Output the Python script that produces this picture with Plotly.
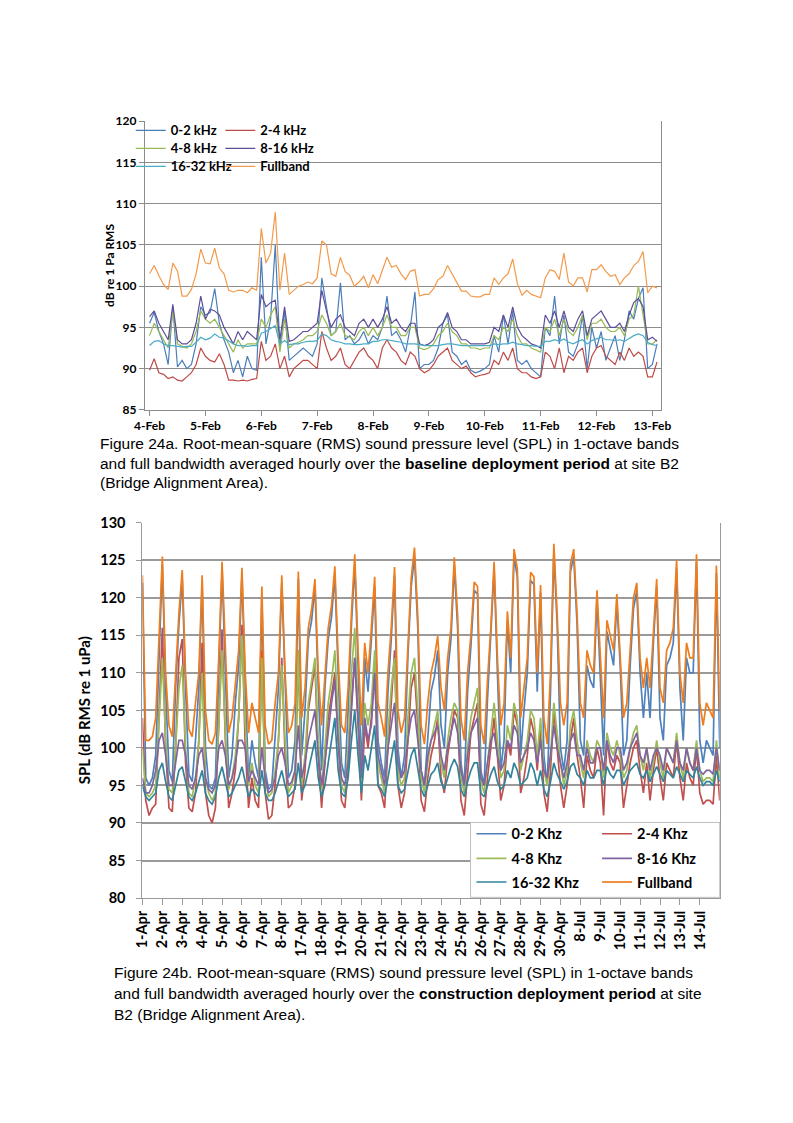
import plotly.graph_objects as go

W, H = 793, 1123

# ---------------- Figure 24a (baseline, 2-hourly samples from 4-Feb 00:00) ----------------
top_labels = ["4-Feb", "5-Feb", "6-Feb", "7-Feb", "8-Feb", "9-Feb", "10-Feb", "11-Feb", "12-Feb", "13-Feb"]
top_hours = list(range(0, 220, 2))

top_b0_2 = [95.5, 96.8, 94.5, 93, 90.5, 97.5, 90.2, 91, 90, 90.5,
            93, 97.5, 96.5, 96.8, 99.7, 95.5, 93.5, 92, 89.5, 91,
            89, 91.5, 90, 89.8, 103.5, 93, 96, 105, 92.5, 97,
            91, 91.5, 92, 92.5, 92, 91.5, 93, 101, 97.5, 94,
            94.5, 100.4, 93.5, 94, 93, 93.5, 94.5, 93, 94, 93.5,
            95, 98.8, 94, 94.5, 93.5, 92, 95, 99.3, 90, 90.5,
            90.5, 91, 92.5, 95.5, 96.5, 92, 91.5, 90.5, 91, 89.8,
            89.5, 89.7, 90, 90.5, 94, 92, 96.5, 93, 97, 91,
            90.5, 91, 90, 89.5, 89, 95, 94, 98.8, 93, 96.5,
            92, 91.5, 93, 96.5, 90, 95, 92.5, 94.5, 91, 92.5,
            94, 91, 93.5, 97, 96, 98.5, 99.8, 90, 90.5, 93]
top_b2_4 = [89.8, 91.2, 89.5, 89.3, 88.8, 89, 88.6, 88.5, 89, 89.5,
            90.5, 92.5, 91.5, 91, 90.8, 91.8, 90.5, 88.6, 88.6, 88.5,
            88.6, 88.5, 88.7, 88.8, 93.3, 91, 91.5, 93, 90, 91.5,
            89, 90, 90.5, 91, 91, 90.5, 90, 94.5, 92.5, 91,
            91.5, 92.5, 90.5, 90, 91, 92, 92.5, 91.5, 91, 90,
            92.5, 93.5, 92.5, 92, 91, 90.5, 92, 91.5, 90, 89.5,
            89.8, 90.5, 91.5, 92, 92.5, 91, 90.5, 90, 90.3, 89.5,
            89, 89.2, 89.3, 89.5, 91, 90.5, 92, 91, 92.5, 90,
            89.5, 89.5, 89, 88.8, 89, 92, 91.5, 90, 92.5, 89.5,
            91.5, 91, 92, 92.5, 89.5, 91.5, 92.5, 92.8, 91.5, 91,
            90.5, 92, 91, 92.5, 91.5, 92, 91.5, 89, 89, 90.8]
top_b4_8 = [94, 95.5, 94.5, 93.5, 92.5, 97, 93, 92.7, 92.5, 93,
            94.5, 97, 96, 95.5, 96, 95, 94, 93, 92, 93.5,
            92.5, 93, 93, 93, 96, 95, 96.5, 97.5, 92, 96,
            92.5, 93, 93.2, 93.5, 94, 94, 94.5, 96.5, 95.5, 94,
            94.5, 95.5, 94, 93.8, 93.5, 94.5, 95, 94, 95, 94,
            95, 96.5, 95, 95, 94, 94, 95, 95, 92.5, 92.3,
            92.5, 93, 94, 94.5, 95.5, 94.5, 94, 93, 93, 92.5,
            92.5, 92.3, 92.5, 92.5, 94, 93.5, 95, 94.5, 96, 94,
            93, 93, 92.5, 92.2, 92, 95, 94.5, 96, 94, 96,
            94.5, 94, 95, 96.5, 93.5, 95.5, 95.5, 96, 95, 94.5,
            94.5, 95, 94, 96, 96.5, 100, 96.5, 93, 93, 93.5]
top_b8_16 = [96.3, 97, 95.5, 94.5, 93.5, 97.8, 93.5, 93, 93, 93.5,
             95.5, 98.8, 96, 97.2, 97, 96.5, 95, 94, 93, 94.5,
             93.5, 94.5, 94, 93.5, 99, 97.5, 98, 98.3, 93.5, 97.5,
             93.3, 93.5, 94, 94.5, 94.5, 95, 95.5, 99.5, 97, 95,
             96, 96.5, 95, 94.5, 94, 95.5, 96, 95, 96, 95,
             96, 97.5, 95.5, 96, 95, 94.5, 95.5, 95.5, 93, 92.8,
             93, 93.5, 95, 95.5, 96.8, 95, 94.5, 93.5, 93.5, 93,
             93, 93, 93, 93.2, 95, 94.5, 96.5, 95, 97.5, 95,
             94, 93.5, 93, 92.8, 92.5, 96.5, 95.5, 97, 95, 97,
             95, 94.5, 96, 97, 94, 96, 96.5, 97, 96, 95,
             95, 95.5, 94.5, 96.5, 98, 98.5, 97.5, 93.5, 93.8, 93.3]
top_b16_32 = [92.8, 93.3, 93.4, 93, 92.8, 92.8, 92.7, 92.6, 92.7, 92.7,
              93.2, 93.8, 93.5, 93.7, 94.2, 93.8, 93.7, 93.3, 93, 92.8,
              92.8, 92.7, 92.8, 92.8, 94.3, 94.5, 94.8, 95.2, 93, 93.4,
              92.9, 93, 93, 93.2, 93.3, 93.3, 93.4, 94.2, 94, 93.5,
              93.3, 93.2, 93, 93, 92.9, 92.9, 93, 93, 93.3, 93.3,
              93.5, 93.5, 93.4, 93.3, 93.2, 93, 93, 93, 92.9, 92.8,
              92.8, 92.8, 92.8, 92.9, 93, 93, 92.9, 92.8, 92.8, 92.8,
              92.8, 92.8, 92.8, 92.8, 93, 92.9, 93, 93, 93.2, 93,
              92.9, 92.8, 92.8, 92.7, 92.7, 93.3, 93.3, 93.5, 93.3, 93.6,
              93.2, 93, 93.3, 93.5, 93, 93.4, 93.6, 93.8, 93.5, 93.5,
              93.4, 93.5, 93.3, 93.7, 94, 94.2, 94, 93.2, 92.9, 92.8]
top_full = [101.5, 102.5, 101.3, 100.2, 99.6, 102.8, 101.8, 98.8, 98.8, 99.6,
            101.5, 104.5, 102.8, 102.7, 104.6, 102.2, 101.5, 99.5, 99.3, 99.5,
            99.5, 99.2, 99.8, 99.5, 107, 102.8, 104, 109, 99.5, 104,
            99, 99.5, 100, 100.2, 100.5, 100.3, 101, 105.5, 105, 101.5,
            101.2, 103.5, 101.8, 101.3, 100, 100.5, 101.2, 99.8, 101.4, 100.3,
            102, 103.5, 102.3, 102.5, 101.5, 100.8, 101.8, 102, 98.8, 99,
            99, 99.7, 100.8, 101.2, 102.5, 101.4, 100.5, 99.4, 99.4, 98.8,
            98.7, 98.7, 99, 99, 101, 100.2, 101, 101.5, 103.3, 100.3,
            98.9, 99.5, 99, 98.8, 98.6, 101, 102, 101.8, 100.8, 104,
            100.5, 100, 101, 101, 99.3, 102, 102, 102.6, 101.8, 101.2,
            101.4, 100.2, 101, 101.5, 102.5, 103, 104.2, 99.2, 100, 99.8]

# ---------------- Figure 24b (construction, 4-hourly samples) ----------------
bot_labels = ["1-Apr", "2-Apr", "3-Apr", "4-Apr", "5-Apr", "6-Apr", "7-Apr", "8-Apr",
              "17-Apr", "18-Apr", "19-Apr", "20-Apr", "21-Apr", "22-Apr", "23-Apr", "24-Apr",
              "25-Apr", "26-Apr", "27-Apr", "28-Apr", "29-Apr", "30-Apr",
              "8-Jul", "9-Jul", "10-Jul", "11-Jul", "12-Jul", "13-Jul", "14-Jul"]
bot_hours = list(range(0, 700, 4))

bot_full = [123, 101, 101, 101.5, 104, 114,
            125.5, 110, 103, 101.5, 110, 118,
            123.7, 110, 102.5, 101.5, 106, 110,
            123, 105, 101, 100.5, 102, 112,
            124.8, 112, 102, 104, 109, 113,
            124, 110, 102, 106, 104, 102,
            121.5, 103, 100.5, 101, 106, 110,
            123, 110, 102, 103, 106, 123.5,
            104, 108, 116, 118.5, 122.5, 110,
            103, 110, 116, 119, 124.2, 112,
            103, 102, 108, 118, 125.8, 113,
            103, 114, 110, 116, 122.8, 106,
            104, 101.5, 110, 116, 124.1, 105,
            102, 104, 114, 122.6, 126.7, 117.5,
            103, 100.5, 106, 110, 112, 114.9,
            108, 105, 112, 116, 125.4, 117.7,
            104, 101, 110, 115, 122.1, 121.5,
            103, 100.5, 109, 116, 124.8, 112,
            103, 106, 118.2, 112, 126.5, 123.9,
            104, 108, 112, 123.4, 122.8, 110,
            121.7, 104, 100.5, 110, 127.2, 118,
            106, 103, 106, 124.5, 126.5, 118,
            106, 104, 113, 111, 110, 121,
            112, 104, 117, 115, 113, 120.5,
            113, 104, 106, 113, 120, 122,
            112, 108, 112, 108, 116, 122.5,
            108, 106, 113, 114, 116, 125,
            110, 106, 114, 112, 112, 125.8,
            106, 103, 106, 105, 104, 124.3,
            105]
bot_b0_2 = [122, 96, 95, 96, 99, 112,
            124.5, 108, 97, 95.5, 108, 116.5,
            122.5, 108, 96.5, 95.5, 101, 108,
            122, 100, 95, 94.5, 96, 110,
            123.8, 110, 96, 99, 106, 111,
            123, 108, 96, 101, 98, 96,
            120.5, 97, 94.5, 95, 101, 108,
            122, 108, 96, 97, 101, 122.5,
            99, 105, 114.5, 117, 121.5, 108,
            97, 108, 114.5, 117.5, 123, 110,
            98, 96, 105, 116.5, 124.5, 111,
            97, 112, 107.5, 114.5, 121.5, 101,
            98, 96, 107.5, 114.5, 123, 100,
            96, 99, 112, 121.5, 125.5, 116,
            97, 95, 101, 107.5, 109.5, 113,
            103, 100, 110, 114.5, 124.3, 116,
            98, 95, 107.5, 113.5, 121, 120.5,
            97, 95, 106.5, 114.5, 123.8, 110,
            97, 101, 117, 110, 125.5, 122.8,
            99, 105, 110, 122.3, 121.8, 107.5,
            120.7, 99, 95, 107.5, 126, 116.5,
            100, 97, 101, 123.5, 125.5, 116.5,
            101, 99, 111, 109, 108, 120,
            110, 99, 115.5, 113, 111, 119.5,
            111, 99, 101, 111, 118.5, 121,
            110, 104, 110, 104, 114, 121.5,
            104, 101, 111, 112, 114, 124,
            108, 101, 112, 110, 110, 124.8,
            101, 98, 101, 100, 99, 123.3,
            100]
bot_b2_4 = [104, 93, 91, 92, 92.5, 105,
            116, 100, 92, 91.5, 100, 112,
            114.5, 98, 92, 91.5, 94, 101,
            114, 94, 91, 90, 92, 103,
            115.8, 101, 92, 94, 97, 104,
            116.4, 100, 92, 96, 93, 92,
            113, 94, 90.5, 91, 95, 101,
            112, 99, 92, 92.5, 95, 113,
            93, 97, 105, 108, 111, 99,
            92, 98, 104, 107, 110, 101,
            93, 92, 97, 106, 112, 103,
            93, 103, 100, 104, 111.5, 95,
            94, 92, 100, 106, 113, 95,
            92, 94, 101, 108, 110, 103,
            93, 91.5, 96, 99, 101, 104,
            96, 94, 99, 102, 105, 104,
            93, 91, 97, 102, 104, 106,
            92.5, 91, 96, 100, 104, 99,
            93, 95, 101, 99, 105, 103,
            94, 96, 99, 104, 102, 97,
            103, 94, 91.5, 97, 105, 100,
            95, 92, 95, 101, 104, 99,
            96, 92, 99, 97, 96, 100,
            98, 91, 101, 98, 97, 99,
            98, 92, 95, 98, 100, 101,
            97, 94, 98, 93, 97, 100,
            96, 93, 98, 97, 96, 101,
            96, 93, 98, 96, 95, 100,
            94, 92.5, 93, 93, 92.5, 99,
            93]
bot_b4_8 = [100, 94, 93.5, 94, 95, 103,
            112, 101, 94.5, 94, 100, 108,
            111, 100, 94, 93.5, 96, 101,
            110, 96, 94, 93, 94, 103,
            113, 102, 94.5, 96, 99, 104,
            115, 103, 95, 98, 95, 94,
            112, 96, 93.5, 94, 97, 101,
            111, 101, 94, 95, 97, 113,
            95, 99, 106, 109, 112, 101,
            94.5, 100, 106, 109, 113, 104,
            95, 94, 100, 110, 116, 105,
            95, 106, 103, 106, 113, 98,
            96, 94, 102, 108, 112, 97,
            95, 96, 104, 110, 112, 105,
            96, 94, 98, 101, 103, 105,
            98, 96, 101, 104, 106, 105,
            96, 94, 100, 104, 106, 108,
            95.5, 94, 98, 102, 106, 101,
            96, 97, 103, 101, 106, 104,
            97, 99, 101, 105, 104, 99,
            104, 97, 95, 99, 106, 102,
            98, 95, 97, 103, 105, 101,
            98, 96, 101, 99, 98, 101,
            100, 96, 102, 100, 99, 101,
            99, 96, 97, 100, 102, 103,
            99, 97, 100, 96, 98, 101,
            98, 96, 100, 99, 98, 102,
            98, 96, 100, 98, 97, 101,
            97, 95.5, 96, 96, 95.5, 101,
            96]
bot_b8_16 = [96, 94, 94, 95, 97, 101,
             102, 99, 95, 95, 98, 101,
             101, 99, 95, 94.5, 96, 99,
             100, 96, 94.5, 94, 95, 100,
             101, 99, 95, 96, 98, 101,
             101, 100, 95.5, 97, 96, 95,
             100, 96, 94, 94.5, 96, 99,
             100, 98, 95, 95.5, 97, 103,
             96, 98, 101, 103, 105, 99,
             95, 98, 102, 106, 109, 101,
             96, 95, 98, 105, 112, 104,
             96, 104, 101, 103, 110, 99,
             97, 95, 100, 103, 106, 98,
             96, 97, 101, 104, 105, 101,
             97, 95, 99, 101, 102, 103,
             99, 97, 100, 102, 104, 102,
             97, 95, 99, 102, 103, 104,
             96, 95, 98, 101, 102, 99,
             97, 98, 101, 100, 103, 102,
             98, 99, 100, 102, 101, 98,
             101, 97, 96, 99, 103, 100,
             98, 96, 98, 101, 102, 99,
             99, 97, 100, 98, 98, 100,
             100, 97, 101, 99, 98, 100,
             100, 97, 98, 100, 101, 102,
             99, 98, 100, 97, 99, 100,
             99, 97, 100, 99, 98, 101,
             98, 97, 100, 98, 97, 100,
             97, 96.5, 97, 97, 96.5, 100,
             97]
bot_b16_32 = [95, 93.5, 93, 93.5, 94, 97,
              98, 95.5, 93.5, 93, 95, 97,
              97.5, 95.5, 93.5, 93, 94, 95.5,
              97, 94, 93, 92.5, 93.5, 96,
              97.5, 95.5, 93.5, 94, 95, 96,
              97.5, 95.5, 93.5, 94.5, 94, 93.5,
              97, 94, 93, 93, 94, 95.5,
              97, 95, 93.5, 94, 94.5, 98,
              94, 95, 97, 99, 101, 96,
              93.5, 95, 98, 101, 104, 97,
              94, 93.5, 96, 101, 105, 99,
              94, 99, 97, 100, 103, 95,
              94.5, 93.5, 96, 99, 101, 95,
              94, 94.5, 97, 99, 100, 97,
              94.5, 93.5, 95, 96.5, 97, 98,
              95.5, 94.5, 96, 97.5, 98.5, 97.5,
              94.5, 93.5, 95.5, 97, 98, 98,
              94, 93.5, 95, 96.5, 97.5, 95.5,
              94.5, 95, 97, 96, 98, 97,
              95, 95.5, 96, 98, 97, 95,
              97, 94.5, 93.5, 95.5, 98, 96.5,
              95.5, 94.5, 95.5, 97.5, 98, 96.5,
              96, 95, 97, 96, 96, 97,
              97, 95, 97.5, 96.5, 96, 97,
              97, 95, 96, 97, 97.5, 98,
              96.5, 96, 97, 95.5, 96.5, 97.5,
              96.5, 95.5, 97, 96.5, 96, 97.5,
              96.5, 95.5, 97, 96.5, 96, 97.5,
              96, 95, 95.5, 95.5, 95, 97,
              95.5]

top_names = ["0-2 kHz", "2-4 kHz", "4-8 kHz", "8-16 kHz", "16-32 kHz", "Fullband"]
bot_names = ["0-2 Khz", "2-4 Khz", "4-8 Khz", "8-16 Khz", "16-32 Khz", "Fullband"]
top_colors = ["#4A7EBB", "#BE4B48", "#98B954", "#5E4E98", "#4BACC6", "#F29A4A"]
bot_colors = ["#4F81BD", "#C0504D", "#9BBB59", "#8064A2", "#31849B", "#EE7D1E"]

top_series = [top_b0_2, top_b2_4, top_b4_8, top_b8_16, top_b16_32, top_full]
bot_series = [bot_b0_2, bot_b2_4, bot_b4_8, bot_b8_16, bot_b16_32, bot_full]


def px(x):
    return x / W


def py(y):
    return 1 - y / H


fig = go.Figure()
top_x = [h / 24 for h in top_hours]
bot_x = [h / 24 for h in bot_hours]

for i, (name, vals, col) in enumerate(zip(top_names, top_series, top_colors)):
    fig.add_trace(go.Scatter(x=top_x, y=vals, mode="lines", name=name,
                             line=dict(color=col, width=1.2),
                             xaxis="x", yaxis="y", showlegend=True,
                             legend="legend" if i == 0 else f"legend{i + 1}"))
for i, (name, vals, col) in enumerate(zip(bot_names, bot_series, bot_colors)):
    fig.add_trace(go.Scatter(x=bot_x, y=vals, mode="lines", name=name,
                             line=dict(color=col, width=1.7),
                             xaxis="x2", yaxis="y2", showlegend=True,
                             legend=f"legend{i + 7}"))

grid_top = "#8C8C8C"
grid_bot = "#9A9A9A"
tfont_top = dict(family="Lato", size=12, color="#000000", weight="bold")
tfont_bot = dict(family="Lato", size=14.5, color="#000000", weight="bold")

layout = dict(
    width=W, height=H,
    margin=dict(l=0, r=0, t=0, b=0),
    paper_bgcolor="white", plot_bgcolor="white",
    showlegend=True,
    xaxis=dict(domain=[px(137.5), px(668)], range=[-0.084, 9.16], anchor="y",
               tickvals=list(range(len(top_labels))), ticktext=top_labels,
               ticks="outside", ticklen=5, tickcolor=grid_top, showline=True,
               linecolor=grid_top, showgrid=False, zeroline=False, tickfont=tfont_top),
    yaxis=dict(domain=[py(407), py(114)], range=[85, 120], dtick=5, anchor="x",
               ticks="outside", ticklen=5, tickcolor=grid_top, showline=True, mirror=True,
               linecolor=grid_top, showgrid=True, gridcolor=grid_top, gridwidth=1,
               zeroline=False, tickfont=tfont_top),
    xaxis2=dict(domain=[px(135), px(728)], range=[0, 29], anchor="y2",
                tickvals=list(range(len(bot_labels))), ticktext=bot_labels, tickangle=-90,
                ticks="outside", ticklen=6, tickcolor=grid_bot, showline=True,
                linecolor=grid_bot, showgrid=False, zeroline=False, tickfont=tfont_bot),
    yaxis2=dict(domain=[py(902.7), py(521.7)], range=[80, 130], dtick=5, anchor="x2",
                ticks="outside", ticklen=5, tickcolor=grid_bot, showline=True, mirror=True,
                linecolor=grid_bot, showgrid=True, gridcolor=grid_bot, gridwidth=2,
                zeroline=False, tickfont=tfont_bot, ticklabelstandoff=8),
)

# legends: one entry per legend box, placed as in the original
top_leg_pos = [(163, 125.7), (255, 125.7), (163, 144), (255, 144), (163, 162.3), (255, 162.3)]
bot_leg_pos = [(513, 840), (642, 840), (513, 865), (642, 865), (513, 889), (642, 889)]
for i, (tx, ty) in enumerate(top_leg_pos):
    key = "legend" if i == 0 else f"legend{i + 1}"
    layout[key] = dict(x=px(tx - 40), y=py(ty - 2.5), xanchor="left", yanchor="middle",
                       bgcolor="rgba(0,0,0,0)", borderwidth=0, visible=True,
                       font=dict(family="Lato", size=13, color="#000000", weight="bold"))
for i, (tx, ty) in enumerate(bot_leg_pos):
    key = f"legend{i + 7}"
    layout[key] = dict(x=px(tx - 40), y=py(ty - 2.5), xanchor="left", yanchor="middle",
                       bgcolor="rgba(0,0,0,0)", borderwidth=0, visible=True,
                       font=dict(family="Lato", size=14.5, color="#000000", weight="bold"))

fig.update_layout(**layout)

# white legend box of the lower chart
fig.add_shape(type="rect", xref="paper", yref="paper",
              x0=px(472), x1=px(728), y0=py(902), y1=py(826),
              fillcolor="white", line=dict(color="#BFBFBF", width=1), layer="above")

# axis titles
fig.add_annotation(text="dB re 1 Pa RMS", xref="paper", yref="paper",
                   x=px(101), y=py(260.5), textangle=-90, showarrow=False,
                   xanchor="center", yanchor="middle",
                   font=dict(family="Lato", size=12, color="#000000", weight="bold"))
fig.add_annotation(text="SPL (dB RMS re 1 uPa)", xref="paper", yref="paper",
                   x=px(75), y=py(712), textangle=-90, showarrow=False,
                   xanchor="center", yanchor="middle",
                   font=dict(family="Lato", size=15, color="#000000", weight="bold"))

cap_font = dict(family="Liberation Sans", size=15.5, color="#000000")
captions = [
    (89, 441.5, "Figure 24a. Root-mean-square (RMS) sound pressure level (SPL) in 1-octave bands"),
    (89, 461.5, "and full bandwidth averaged hourly over the <b>baseline deployment period</b> at site B2"),
    (89, 481, "(Bridge Alignment Area)."),
    (104, 978.5, "Figure 24b. Root-mean-square (RMS) sound pressure level (SPL) in 1-octave bands"),
    (104, 999.5, "and full bandwidth averaged hourly over the <b>construction deployment period</b> at site"),
    (104, 1020.5, "B2 (Bridge Alignment Area)."),
]
for cx, cy, txt in captions:
    fig.add_annotation(text=txt, xref="paper", yref="paper", x=px(cx), y=py(cy),
                       xanchor="left", yanchor="middle", showarrow=False, font=cap_font)

fig.write_html(
    "out.html",
    config={"displayModeBar": False},
    post_script=("document.documentElement.style.margin='0';"
                 "document.documentElement.style.overflow='hidden';"
                 "document.body.style.margin='0';"
                 "document.body.style.overflow='hidden';"),
)
